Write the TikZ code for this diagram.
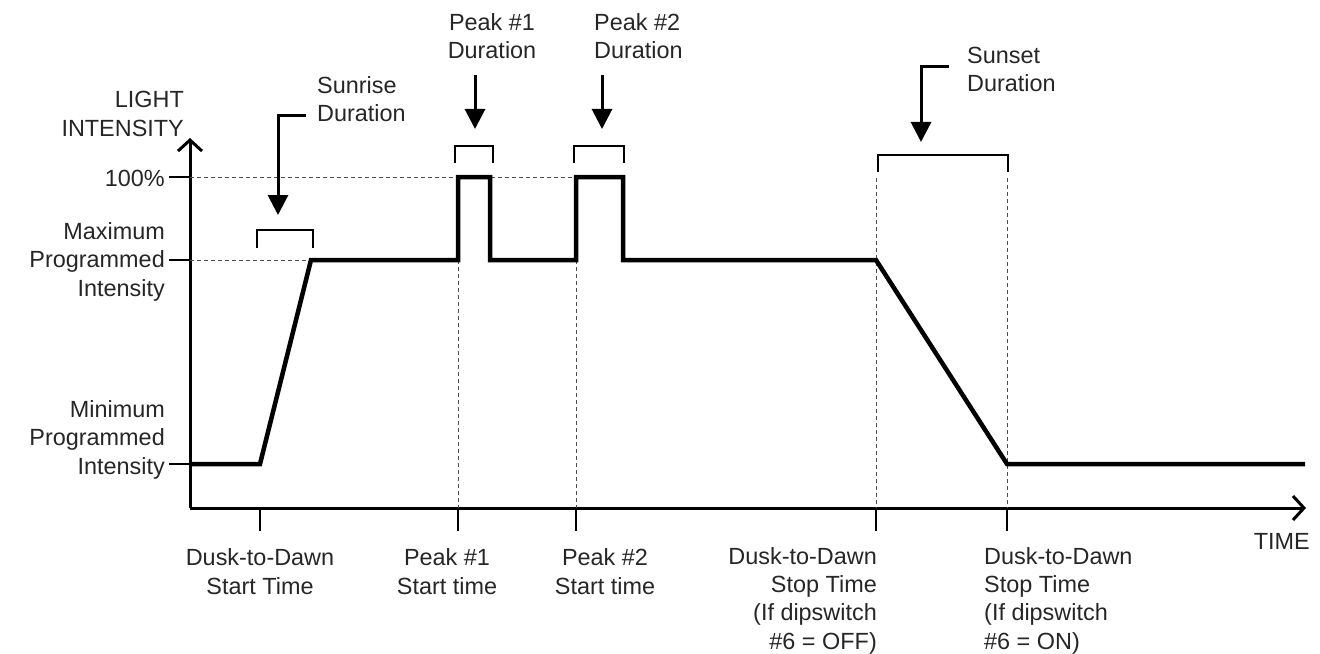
\documentclass[tikz,border=0pt]{standalone}
\usepackage{fontspec}
\setmainfont{Liberation Sans}
\usetikzlibrary{arrows.meta}
\begin{document}
\begin{tikzpicture}[x=1bp,y=-1bp,
  lbl/.style={inner sep=0pt,font=\fontsize{23.5}{28.3}\selectfont,text=black!85},
  axis/.style={line width=3bp},
  curve/.style={line width=4.5bp,line join=miter},
  brk/.style={line width=2bp},
  guide/.style={line width=0.8bp,dash pattern=on 4bp off 3bp,black!70},
  tick/.style={line width=2bp},
  pointer/.style={line width=3bp,-{Triangle[width=20bp,length=20bp]}},
  chev/.style={-{Straight Barb[length=11bp,width=24bp,line width=3bp]}}]
\useasboundingbox (0,0) rectangle (1320,654);
% axes
\coordinate (O) at (190,508);
\coordinate (Ytop) at (190,138);
\coordinate (Xend) at (1306,508);
\draw[axis,chev] (O) -- (Ytop);
\draw[axis,chev] (O) -- (Xend);
% y ticks
\coordinate (y100) at (190,177);
\coordinate (ymax) at (190,260);
\coordinate (ymin) at (190,464);
\draw[tick] (169,177) -- (y100);
\draw[tick] (169,260) -- (ymax);
\draw[tick] (169,464) -- (ymin);
% x ticks
\foreach \n/\x in {t1/260,t2/458,t3/576,t4/876,t5/1007}{
  \coordinate (\n) at (\x,508);
  \draw[tick] (\n) -- ++(0,23);
}
% guides
\coordinate (p1a) at (458,260); \coordinate (p1b) at (458,177);
\coordinate (p1c) at (490,177); \coordinate (p1d) at (490,260);
\coordinate (p2a) at (576,260); \coordinate (p2b) at (576,177);
\coordinate (p2c) at (623,177); \coordinate (p2d) at (623,260);
\coordinate (s0) at (260,464); \coordinate (s1) at (311,260);
\coordinate (d0) at (876,260); \coordinate (d1) at (1007,464);
\coordinate (cstart) at (190,464); \coordinate (cend) at (1305,464);
\draw[guide] (y100) -- (p2b);
\draw[guide] (ymax) -- (s1);
\draw[guide] (p1a) -- (t2);
\draw[guide] (p2a) -- (t3);
\draw[guide] (876,178) -- (t4);
\draw[guide] (1007,178) -- (t5);
% curve
\draw[curve] (cstart) -- (s0) -- (s1) -- (p1a) -- (p1b) -- (p1c) -- (p1d)
  -- (p2a) -- (p2b) -- (p2c) -- (p2d) -- (d0) -- (d1) -- (cend);
% brackets
\draw[brk] (257,248) -- (257,230) -- (313,230) -- (313,248);
\draw[brk] (455,163) -- (455,146) -- (493,146) -- (493,163);
\draw[brk] (574,163) -- (574,146) -- (624,146) -- (624,163);
\draw[brk] (878,172) -- (878,155) -- (1008,155) -- (1008,172);
% pointers
\coordinate (a1s) at (306,116); \coordinate (a1t) at (278,215);
\draw[pointer] (a1s) -- (278,116) -- (a1t);
\coordinate (a2s) at (475,75); \coordinate (a2t) at (475,129);
\draw[pointer] (a2s) -- (a2t);
\coordinate (a3s) at (602,75); \coordinate (a3t) at (602,129);
\draw[pointer] (a3s) -- (a3t);
\coordinate (a4s) at (949,67); \coordinate (a4t) at (921,142);
\draw[pointer] (a4s) -- (921,67) -- (a4t);
% labels (anchor base = baseline of last line)
\node[lbl,anchor=base east,align=right] (ylab) at (184,136) {LIGHT\\INTENSITY};
\node[lbl,anchor=base east] (l100) at (165,186) {100\%};
\node[lbl,anchor=base east,align=right] (lmax) at (165,296) {Maximum\\Programmed\\Intensity};
\node[lbl,anchor=base east,align=right] (lmin) at (165,474) {Minimum\\Programmed\\Intensity};
\node[lbl,anchor=base west,align=left] (lsr) at (317,122) {Sunrise\\Duration};
\node[lbl,anchor=base,align=center] (lp1) at (492,59) {Peak \#1\\Duration};
\node[lbl,anchor=base west,align=left] (lp2) at (594,59) {Peak \#2\\Duration};
\node[lbl,anchor=base west,align=left] (lss) at (967,92) {Sunset\\Duration};
\node[lbl,anchor=base east] (ltime) at (1310,549) {TIME};
\node[lbl,anchor=base,align=center] (b1) at (260,594) {Dusk-to-Dawn\\Start Time};
\node[lbl,anchor=base,align=center] (b2) at (447,594) {Peak \#1\\Start time};
\node[lbl,anchor=base,align=center] (b3) at (605,594) {Peak \#2\\Start time};
\node[lbl,anchor=base east,align=right] (b4) at (877,649) {Dusk-to-Dawn\\Stop Time\\(If dipswitch\\\#6 = OFF)};
\node[lbl,anchor=base west,align=left] (b5) at (984,649) {Dusk-to-Dawn\\Stop Time\\(If dipswitch\\\#6 = ON)};
\end{tikzpicture}
\end{document}
